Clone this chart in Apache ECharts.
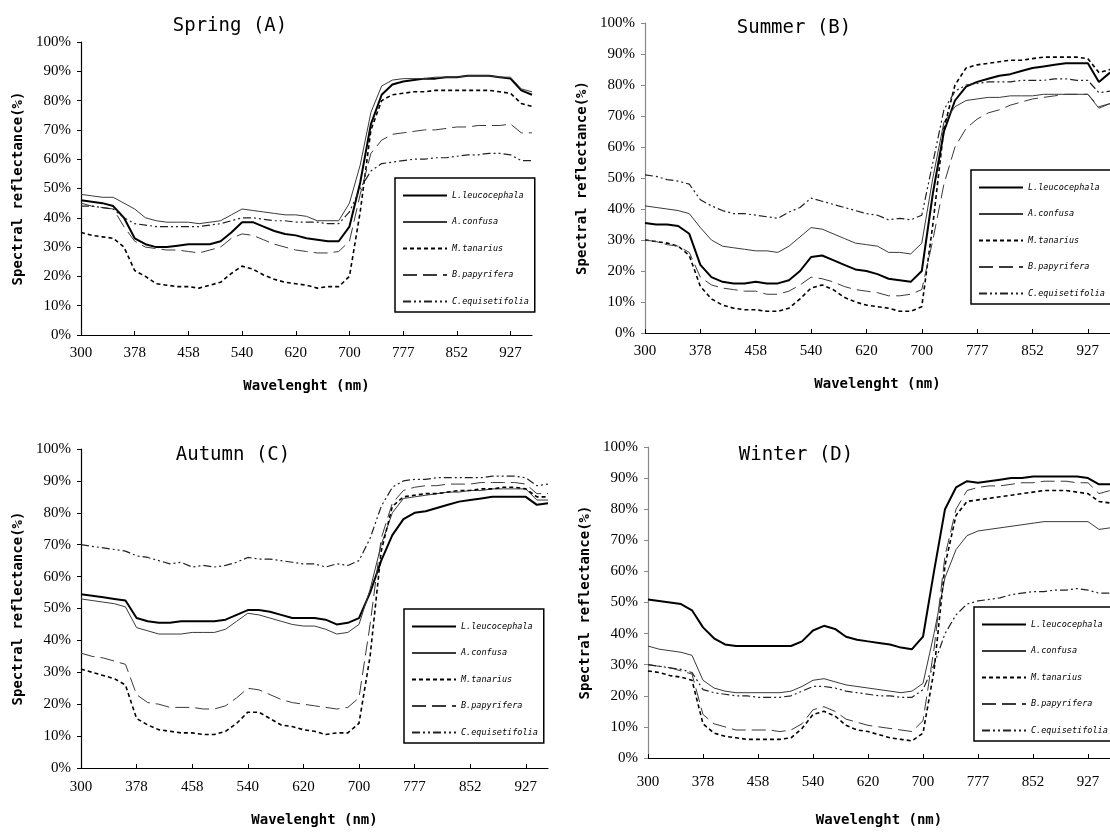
<!DOCTYPE html>
<html>
<head>
<meta charset="utf-8">
<script src="https://cdn.jsdelivr.net/npm/echarts@6/dist/echarts.min.js"></script>
<style>
  html, body { margin: 0; padding: 0; background: #fff; }
  #chart { width: 1110px; height: 832px; }
</style>
</head>
<body>
<div id="chart"></div>
<script>
// sample wavelengths (nm), every 5th one is a tick label
var wavelengths = ['300', '316', '331', '347', '362', '378', '394', '410', '426', '442',
    '458', '474', '491', '507', '524', '540', '556', '572', '588', '604',
    '620', '636', '652', '668', '684', '700', '715', '731', '746', '762',
    '777', '792', '807', '822', '837', '852', '867', '882', '897', '912',
    '927', '942', '957'];

var speciesNames = ['L.leucocephala', 'A.confusa', 'M.tanarius', 'B.papyrifera', 'C.equisetifolia'];
var panelTitles = ['Spring (A)', 'Summer (B)', 'Autumn (C)', 'Winter (D)'];

// Spring (A)
var springL = [46, 45.5, 45, 44, 40, 33, 31, 30, 30, 30.5, 31, 31, 31, 32, 35, 38.5, 38.5, 37, 35.5, 34.5, 34, 33, 32.5, 32, 32, 37, 52, 72, 82, 85.5, 86.5, 87, 87.5, 87.5, 88, 88, 88.5, 88.5, 88.5, 88, 87.5, 83.5, 82];
var springA = [48, 47.5, 47, 47, 45, 43, 40, 39, 38.5, 38.5, 38.5, 38, 38.5, 39, 41, 43, 42.5, 42, 41.5, 41, 41, 40.5, 39, 39, 39, 45, 58, 76, 85, 87, 87.5, 87.5, 87.5, 88, 88, 88, 88.5, 88.5, 88.5, 88, 88, 84, 83];
var springM = [35, 34, 33.5, 33, 30, 22, 20, 17.5, 17, 16.5, 16.5, 16, 17, 18, 21, 23.5, 22.5, 20.5, 19, 18, 17.5, 17, 16, 16.5, 16.5, 20, 42, 70, 80, 82, 82.5, 83, 83, 83.5, 83.5, 83.5, 83.5, 83.5, 83.5, 83, 82.5, 79, 78];
var springB = [45, 44, 43.5, 43, 37, 32, 30, 29.5, 29, 29, 28.5, 28, 29, 30, 33, 34.5, 34, 32.5, 31, 30, 29, 28.5, 28, 28, 28.5, 32, 48, 62, 66.5, 68.5, 69, 69.5, 70, 70, 70.5, 71, 71, 71.5, 71.5, 71.5, 72, 69, 69];
var springC = [44, 44, 43.5, 43, 40, 38, 37.5, 37, 37, 37, 37, 37, 37.5, 38, 39, 40, 40, 39.5, 39, 39, 38.5, 38.5, 38.5, 38, 38, 42, 50, 56, 58.5, 59, 59.5, 60, 60, 60.5, 60.5, 61, 61.5, 61.5, 62, 62, 61.5, 59.5, 59.5];

// Summer (B)
var summerL = [35.5, 35, 35, 34.5, 32, 22, 18, 16.5, 16, 16, 16.5, 16, 16, 17, 20, 24.5, 25, 23.5, 22, 20.5, 20, 19, 17.5, 17, 16.5, 20, 45, 65, 75, 79.5, 81, 82, 83, 83.5, 84.5, 85.5, 86, 86.5, 87, 87, 87, 81, 84];
var summerA = [41, 40.5, 40, 39.5, 38.5, 34, 30, 28, 27.5, 27, 26.5, 26.5, 26, 28, 31, 34, 33.5, 32, 30.5, 29, 28.5, 28, 26, 26, 25.5, 29, 50, 68, 73, 75, 75.5, 76, 76, 76.5, 76.5, 76.5, 77, 77, 77, 77, 77, 72.5, 74];
var summerM = [30, 29.5, 29, 28, 25, 15, 11, 9, 8, 7.5, 7.5, 7, 7, 8, 11, 14.5, 15.5, 14, 11.5, 10, 9, 8.5, 8, 7, 7, 8.5, 35, 66, 80, 85.5, 86.5, 87, 87.5, 88, 88, 88.5, 89, 89, 89, 89, 88.5, 84, 85];
var summerB = [30, 29.5, 28.5, 28, 26, 18, 15.5, 14.5, 14, 13.5, 13.5, 12.5, 12.5, 13.5, 15.5, 18, 17.5, 16.5, 15, 14, 13.5, 13, 12, 12, 12.5, 14, 30, 48, 60, 66, 69, 71, 72, 73.5, 74.5, 75.5, 76, 76.5, 77, 77, 77, 73, 74];
var summerC = [51, 50.5, 49.5, 49, 48, 43, 41, 39.5, 38.5, 38.5, 38, 37.5, 37, 39, 40.5, 43.5, 42.5, 41.5, 40.5, 39.5, 38.5, 38, 36.5, 37, 36.5, 38, 55, 72, 78, 80, 80.5, 81, 81, 81, 81.5, 81.5, 81.5, 82, 82, 81.5, 81.5, 77.5, 78];

// Autumn (C)
var autumnL = [54.5, 54, 53.5, 53, 52.5, 47, 46, 45.5, 45.5, 46, 46, 46, 46, 46.5, 48, 49.5, 49.5, 49, 48, 47, 47, 47, 46.5, 45, 45.5, 47, 55, 65, 73, 78, 80, 80.5, 81.5, 82.5, 83.5, 84, 84.5, 85, 85, 85, 85, 82.5, 83];
var autumnA = [53, 52.5, 52, 51.5, 50.5, 44, 43, 42, 42, 42, 42.5, 42.5, 42.5, 43.5, 46, 48.5, 48, 47, 46, 45, 44.5, 44.5, 43.5, 42, 42.5, 45, 56, 70, 80, 84.5, 85, 85.5, 86, 86.5, 86.5, 87, 87, 87.5, 87.5, 87.5, 87.5, 84, 84];
var autumnM = [31, 30, 29, 28, 26, 15.5, 13.5, 12, 11.5, 11, 11, 10.5, 10.5, 11.5, 14, 17.5, 17.5, 15.5, 13.5, 13, 12, 11.5, 10.5, 11, 11, 14, 35, 68, 82, 85, 85.5, 86, 86, 86.5, 87, 87, 87.5, 87.5, 88, 88, 87.5, 85, 85];
var autumnB = [36, 35, 34.5, 33.5, 32.5, 23, 20.5, 20, 19, 19, 19, 18.5, 18.5, 19.5, 22, 25, 24.5, 23, 21.5, 20.5, 20, 19.5, 19, 18.5, 19, 22, 45, 72, 83, 87, 88, 88.5, 88.5, 89, 89, 89, 89.5, 89.5, 89.5, 89.5, 89, 86, 86];
var autumnC = [70, 69.5, 69, 68.5, 68, 66.5, 66, 65, 64, 64.5, 63, 63.5, 63, 63.5, 64.5, 66, 65.5, 65.5, 65, 64.5, 64, 64, 63, 64, 63.5, 65, 72, 82, 88, 90, 90.5, 90.5, 91, 91, 91, 91, 91, 91.5, 91.5, 91.5, 91, 88.5, 89];

// Winter (D)
var winterL = [51, 50.5, 50, 49.5, 47.5, 42, 38.5, 36.5, 36, 36, 36, 36, 36, 36, 37.5, 41, 42.5, 41.5, 39, 38, 37.5, 37, 36.5, 35.5, 35, 39, 60, 80, 87, 89, 88.5, 89, 89.5, 90, 90, 90.5, 90.5, 90.5, 90.5, 90.5, 90, 88, 88];
var winterA = [36, 35, 34.5, 34, 33, 25, 22.5, 21.5, 21, 21, 21, 21, 21, 21.5, 23, 25, 25.5, 24.5, 23.5, 23, 22.5, 22, 21.5, 21, 21.5, 24, 40, 58, 67, 71.5, 73, 73.5, 74, 74.5, 75, 75.5, 76, 76, 76, 76, 76, 73.5, 74];
var winterM = [28, 27.5, 26.5, 26, 25, 11, 8, 7, 6.5, 6, 6, 6, 6, 6.5, 9.5, 14, 15, 13.5, 10.5, 9, 8.5, 7.5, 6.5, 6, 5.5, 8, 28, 62, 78, 82.5, 83, 83.5, 84, 84.5, 85, 85.5, 86, 86, 86, 85.5, 85, 82.5, 82];
var winterB = [30, 29.5, 29, 28, 27, 14, 11, 10, 9, 9, 9, 9, 8.5, 9, 11, 15.5, 16.5, 15, 12.5, 11.5, 10.5, 10, 9.5, 9, 8.5, 12, 35, 65, 80, 86, 87, 87.5, 87.5, 88, 88.5, 88.5, 89, 89, 89, 88.5, 88.5, 85, 86];
var winterC = [30, 29.5, 29, 28.5, 27.5, 22, 21, 20.5, 20, 20, 19.5, 19.5, 19.5, 20, 21.5, 23, 23, 22.5, 21.5, 21, 20.5, 20, 20, 19.5, 19.5, 22, 30, 40, 46, 49.5, 50.5, 51, 51.5, 52.5, 53, 53.5, 53.5, 54, 54, 54.5, 54, 53, 53];

var seasonData = [
    [springL, springA, springM, springB, springC],
    [summerL, summerA, summerM, summerB, summerC],
    [autumnL, autumnA, autumnM, autumnB, autumnC],
    [winterL, winterA, winterM, winterB, winterC]
];

var chart = echarts.init(document.getElementById('chart'));

var monoFont = 'DejaVu Sans Mono';
var serifFont = 'Liberation Serif';

// line look of each species
var lineStyles = [
    { color: '#000', width: 2, type: 'solid' },
    { color: '#3a3a3a', width: 1, type: 'solid' },
    { color: '#000', width: 1.6, type: [4, 3] },
    { color: '#3a3a3a', width: 1, type: [14, 6] },
    { color: '#222', width: 1.2, type: [8, 3, 2, 3, 2, 3] }
];

// panel layout: grid box, title centre, legend corner, label margins
var panels = [
    { left: 81, top: 42, width: 451, height: 293, titleX: 225, titleY: 12, legX: 395, legY: 178, axisColor: '#000', labelMargin: 11, xNameGap: 44 },
    { left: 645, top: 23, width: 477, height: 310, titleX: 789, titleY: 14, legX: 971, legY: 170, axisColor: '#888', labelMargin: 11, xNameGap: 44 },
    { left: 81, top: 449, width: 467, height: 319, titleX: 228, titleY: 441, legX: 404, legY: 609, axisColor: '#000', labelMargin: 12, xNameGap: 45 },
    { left: 648, top: 447, width: 467, height: 311, titleX: 791, titleY: 441, legX: 974, legY: 607, axisColor: '#888', labelMargin: 17, xNameGap: 55 }
];

var option = {
    backgroundColor: '#fff',
    animation: false,
    title: [],
    grid: [],
    xAxis: [],
    yAxis: [],
    legend: [],
    series: []
};

panels.forEach(function (p, i) {
    option.title.push({
        text: panelTitles[i],
        left: p.titleX,
        top: p.titleY,
        textAlign: 'center',
        textStyle: { fontFamily: monoFont, fontWeight: 'normal', fontSize: 19, color: '#000' }
    });
    option.grid.push({ left: p.left, top: p.top, width: p.width, height: p.height, containLabel: false });
    option.xAxis.push({
        type: 'category',
        gridIndex: i,
        data: wavelengths,
        boundaryGap: false,
        name: 'Wavelenght (nm)',
        nameLocation: 'middle',
        nameGap: p.xNameGap,
        nameTextStyle: { fontFamily: monoFont, fontWeight: 'bold', fontSize: 14, color: '#000' },
        axisLine: { lineStyle: { color: '#000', width: 1.2 } },
        axisTick: { inside: true, length: 4, interval: 4, lineStyle: { color: '#000' } },
        axisLabel: { interval: 4, margin: p.labelMargin, fontFamily: serifFont, fontSize: 15, color: '#000' },
        splitLine: { show: false }
    });
    option.yAxis.push({
        type: 'value',
        gridIndex: i,
        min: 0,
        max: 100,
        interval: 10,
        name: 'Spectral reflectance(%)',
        nameLocation: 'middle',
        nameGap: 56,
        nameTextStyle: { fontFamily: monoFont, fontWeight: 'bold', fontSize: 14, color: '#000' },
        axisLine: { show: true, lineStyle: { color: p.axisColor, width: 1.2 } },
        axisTick: { show: true, length: 4, lineStyle: { color: p.axisColor } },
        axisLabel: { formatter: '{value}%', margin: 10, fontFamily: serifFont, fontSize: 15, color: '#000' },
        splitLine: { show: false }
    });
    option.legend.push({
        orient: 'vertical',
        left: p.legX,
        top: p.legY,
        data: speciesNames,
        itemWidth: 44,
        itemHeight: 10,
        itemGap: 17.5,
        padding: [13, 6, 6, 7],
        borderColor: '#000',
        borderWidth: 1.5,
        backgroundColor: '#fff',
        selectedMode: false,
        itemStyle: { opacity: 0 },
        textStyle: { fontFamily: monoFont, fontStyle: 'italic', fontSize: 8.5, color: '#000' }
    });
    seasonData[i].forEach(function (values, k) {
        option.series.push({
            name: speciesNames[k],
            type: 'line',
            xAxisIndex: i,
            yAxisIndex: i,
            data: values,
            showSymbol: false,
            symbol: 'none',
            lineStyle: lineStyles[k],
            itemStyle: { color: lineStyles[k].color },
            z: 2
        });
    });
});

chart.setOption(option);
</script>
</body>
</html>
